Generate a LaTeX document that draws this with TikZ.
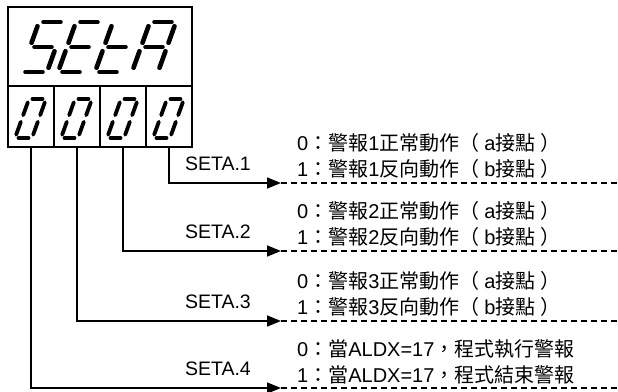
\documentclass[tikz,border=0pt]{standalone}
\usepackage{fontspec}
\setmainfont{Liberation Sans}
\newfontfamily\cjkfont{Noto Sans CJK TC}
\usetikzlibrary{
  arrows.meta,
  positioning
}
\newcommand{\zh}[1]{{\cjkfont #1}}
\newcommand{\lpar}{\zh{（}\hspace{0.25em}}
\newcommand{\rpar}{\hspace{0.25em}\zh{）}}
% one seven-segment glyph: origin, size style, list of segments
\newcommand{\segglyph}[3]{%
  \begin{scope}[shift={#1}, #2]
    \coordinate (BL) at (0,0);
    \coordinate (BR) at (1,0);
    \coordinate (ML) at (0,0.5);
    \coordinate (MR) at (1,0.5);
    \coordinate (TL) at (0,1);
    \coordinate (TR) at (1,1);
    \foreach \p/\q in {#3}
      \draw[segline] (\p) -- (\q);
  \end{scope}}

\begin{document}
\begin{tikzpicture}[
    x=1pt, y=-1pt,
    panel/.style={draw, line width=1.3pt, outer sep=0pt, inner sep=0pt},
    cell/.style={panel, minimum width=46pt, minimum height=61pt},
    bigseg/.style={x={(26pt,0pt)}, y={(18pt,50pt)},
      segline/.style={line width=4.6pt, line cap=round, shorten <=4.5pt, shorten >=4.5pt}},
    smallseg/.style={x={(17pt,0pt)}, y={(14pt,39pt)},
      segline/.style={line width=3.8pt, line cap=round, shorten <=3.5pt, shorten >=3.5pt}},
    wire/.style={line width=1.6pt, -{Triangle[length=14pt, width=11pt]}},
    dashline/.style={line width=1.4pt, dash pattern=on 6pt off 4pt},
    setlbl/.style={font=\fontsize{19.5}{23}\selectfont, inner sep=0pt},
    desc/.style={font=\fontsize{20}{26}\selectfont, align=left, inner sep=0pt}
  ]
  \useasboundingbox (0,0) rectangle (618,391);

  % display
  \node[panel, minimum width=184pt, minimum height=79pt, anchor=north west] (disp) at (8,7) {};
  \node[cell, anchor=north west] (c1) at (disp.south west) {};
  \node[cell, right=0pt of c1] (c2) {};
  \node[cell, right=0pt of c2] (c3) {};
  \node[cell, right=0pt of c3] (c4) {};

  \segglyph{(21,72)}{bigseg}{TL/TR, ML/TL, ML/MR, MR/BR, BL/BR}
  \segglyph{(58,72)}{bigseg}{TL/TR, ML/TL, ML/MR, BL/ML, BL/BR}
  \segglyph{(95,72)}{bigseg}{ML/TL, ML/MR, BL/ML, BL/BR}
  \segglyph{(132,72)}{bigseg}{TL/TR, ML/TL, MR/TR, ML/MR, BL/ML, BR/MR}
  \foreach \i in {0,1,2,3} {
    \segglyph{(15+46*\i,138)}{smallseg}{TL/TR, ML/TL, MR/TR, BL/ML, BR/MR, BL/BR}
  }

  % arrow ends
  \coordinate (t1) at (281,183);
  \coordinate (t2) at (281,251);
  \coordinate (t3) at (281,321);
  \coordinate (t4) at (281,388);
  \coordinate (e1) at (618,183);
  \coordinate (e2) at (618,251);
  \coordinate (e3) at (618,321);
  \coordinate (e4) at (618,388);

  \draw[wire] (c4.south) |- (t1);
  \draw[wire] (c3.south) |- (t2);
  \draw[wire] (c2.south) |- (t3);
  \draw[wire] (c1.south) |- (t4);
  \draw[dashline] (t1) -- (e1);
  \draw[dashline] (t2) -- (e2);
  \draw[dashline] (t3) -- (e3);
  \draw[dashline] (t4) -- (e4);

  \node[setlbl, above left=12pt and 30pt of t1] (s1) {SETA.1};
  \node[setlbl, above left=12pt and 30pt of t2] (s2) {SETA.2};
  \node[setlbl, above left=12pt and 30pt of t3] (s3) {SETA.3};
  \node[setlbl, above left=12pt and 30pt of t4] (s4) {SETA.4};

  \node[desc, above right=4pt and 16pt of t1] (d1)
    {0\zh{：警報}1\zh{正常動作}\lpar a\zh{接點}\rpar\\1\zh{：警報}1\zh{反向動作}\lpar b\zh{接點}\rpar};
  \node[desc, above right=4pt and 16pt of t2] (d2)
    {0\zh{：警報}2\zh{正常動作}\lpar a\zh{接點}\rpar\\1\zh{：警報}2\zh{反向動作}\lpar b\zh{接點}\rpar};
  \node[desc, above right=4pt and 16pt of t3] (d3)
    {0\zh{：警報}3\zh{正常動作}\lpar a\zh{接點}\rpar\\1\zh{：警報}3\zh{反向動作}\lpar b\zh{接點}\rpar};
  \node[desc, above right=4pt and 16pt of t4] (d4)
    {0\zh{：當}ALDX=17\zh{，程式執行警報}\\1\zh{：當}ALDX=17\zh{，程式結束警報}};
\end{tikzpicture}
\end{document}
